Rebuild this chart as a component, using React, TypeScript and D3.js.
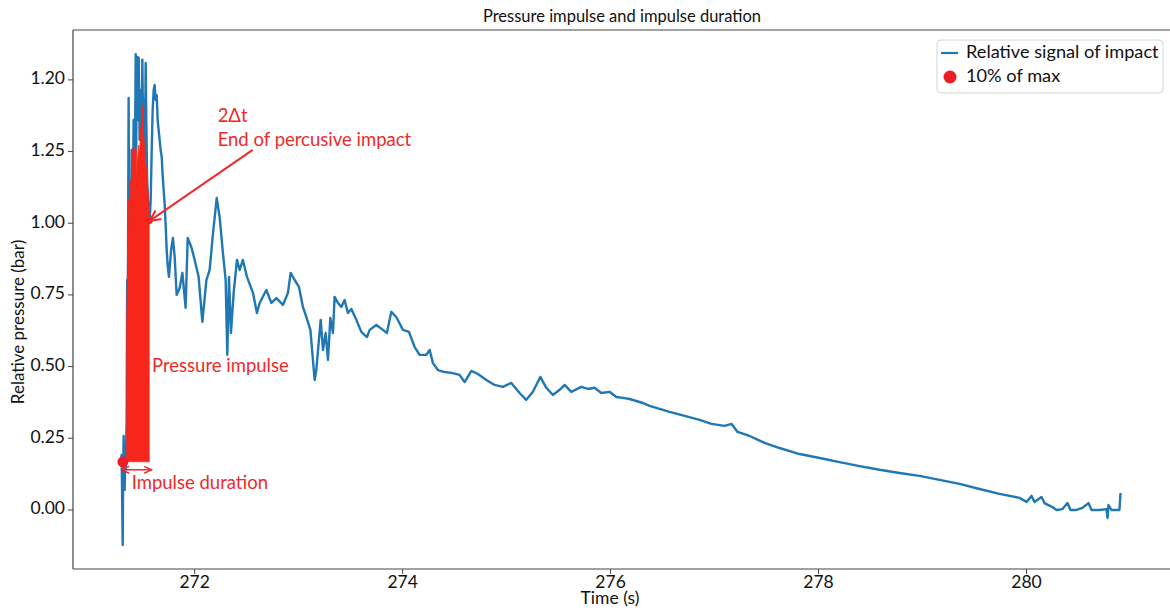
import React from 'react';
import * as d3 from 'd3';

// Relative signal of impact (time in s, pressure in bar)
const signalTime = [
  271.288, 271.298, 271.303, 271.308, 271.312, 271.317, 271.322, 271.327, 271.332, 271.337,
  271.346, 271.351, 271.356, 271.361, 271.365, 271.370, 271.375, 271.385, 271.394, 271.404,
  271.413, 271.423, 271.433, 271.438, 271.442, 271.449, 271.455, 271.462, 271.471, 271.481,
  271.490, 271.497, 271.505, 271.514, 271.522, 271.529, 271.535, 271.543, 271.551, 271.558,
  271.567, 271.577, 271.587, 271.596, 271.606, 271.615, 271.625, 271.635, 271.644, 271.654,
  271.663, 271.673, 271.683, 271.692, 271.702, 271.712, 271.721, 271.731, 271.740, 271.753,
  271.764, 271.774, 271.791, 271.808, 271.827, 271.856, 271.882, 271.913, 271.933, 271.968,
  272.000, 272.038, 272.074, 272.113, 272.144, 272.173, 272.212, 272.240, 272.269, 272.298,
  272.314, 272.330, 272.349, 272.375, 272.407, 272.433, 272.464, 272.503, 272.561, 272.599,
  272.625, 272.689, 272.738, 272.786, 272.849, 272.897, 272.923, 272.962, 273.003, 273.041,
  273.074, 273.113, 273.154, 273.170, 273.195, 273.212, 273.234, 273.260, 273.282, 273.305,
  273.330, 273.346, 273.378, 273.411, 273.442, 273.474, 273.507, 273.555, 273.603, 273.657,
  273.683, 273.747, 273.811, 273.849, 273.891, 273.939, 274.003, 274.061, 274.115, 274.163,
  274.228, 274.260, 274.291, 274.339, 274.404, 274.468, 274.548, 274.596, 274.661, 274.724,
  274.805, 274.885, 274.964, 275.045, 275.125, 275.189, 275.253, 275.324, 275.382, 275.445,
  275.510, 275.558, 275.622, 275.718, 275.782, 275.846, 275.911, 275.990, 276.055, 276.118,
  276.183, 276.247, 276.311, 276.375, 276.439, 276.567, 276.712, 276.856, 276.971, 277.096,
  277.163, 277.221, 277.337, 277.481, 277.625, 277.817, 278.010, 278.202, 278.394, 278.587,
  278.779, 278.971, 279.163, 279.356, 279.548, 279.740, 279.933, 280.000, 280.048, 280.077,
  280.144, 280.173, 280.250, 280.288, 280.346, 280.394, 280.423, 280.481, 280.538, 280.596,
  280.625, 280.702, 280.769, 280.779, 280.788, 280.817, 280.894, 280.904,
];
const signalValue = [
  0.167, 0.192, 0.035, -0.122, 0.105, 0.258, 0.140, 0.070, 0.174, 0.140,
  0.314, 0.802, 0.558, 1.046, 1.437, 0.907, 1.151, 0.732, 1.256, 0.977,
  1.360, 1.081, 1.590, 1.256, 1.535, 1.580, 1.360, 1.577, 1.291, 1.465,
  1.256, 1.570, 1.291, 1.430, 1.221, 1.559, 1.360, 1.151, 1.081, 1.029,
  1.008, 1.081, 1.256, 1.395, 1.465, 1.482, 1.430, 1.447, 1.360, 1.325,
  1.291, 1.256, 1.231, 1.168, 1.116, 1.064, 0.994, 0.907, 0.855, 0.813,
  0.865, 0.907, 0.949, 0.882, 0.750, 0.774, 0.827, 0.705, 0.949, 0.917,
  0.872, 0.813, 0.656, 0.802, 0.837, 0.952, 1.088, 1.022, 0.907, 0.802,
  0.541, 0.813, 0.617, 0.757, 0.872, 0.837, 0.872, 0.813, 0.757, 0.687,
  0.722, 0.767, 0.722, 0.739, 0.715, 0.757, 0.827, 0.802, 0.778, 0.708,
  0.673, 0.628, 0.453, 0.488, 0.593, 0.663, 0.558, 0.617, 0.523, 0.670,
  0.617, 0.743, 0.722, 0.708, 0.732, 0.687, 0.701, 0.663, 0.621, 0.603,
  0.628, 0.645, 0.628, 0.617, 0.691, 0.673, 0.628, 0.621, 0.569, 0.541,
  0.541, 0.558, 0.513, 0.488, 0.481, 0.478, 0.471, 0.446, 0.485, 0.474,
  0.453, 0.436, 0.429, 0.443, 0.408, 0.384, 0.412, 0.464, 0.426, 0.401,
  0.419, 0.436, 0.412, 0.429, 0.422, 0.426, 0.408, 0.412, 0.394, 0.391,
  0.387, 0.380, 0.373, 0.363, 0.356, 0.342, 0.328, 0.314, 0.300, 0.293,
  0.300, 0.272, 0.258, 0.234, 0.216, 0.195, 0.181, 0.167, 0.153, 0.140,
  0.129, 0.119, 0.105, 0.091, 0.073, 0.056, 0.042, 0.028, 0.049, 0.028,
  0.045, 0.024, 0.010, 0.000, 0.003, 0.024, 0.000, 0.000, 0.007, 0.024,
  0.000, 0.000, 0.003, -0.028, 0.017, 0.000, 0.000, 0.059,
];

// Pressure impulse (filled red area above the 10% level)
const impulseTime = [
  271.346, 271.356, 271.365, 271.375, 271.385, 271.394, 271.404, 271.413, 271.423, 271.433,
  271.442, 271.452, 271.462, 271.471, 271.481, 271.490, 271.497, 271.505, 271.510, 271.519,
  271.529, 271.535, 271.543, 271.551, 271.558, 271.563,
];
const impulseValue = [
  0.628, 0.907, 1.081, 0.872, 1.151, 1.012, 1.256, 1.168, 1.263, 1.116,
  1.256, 1.203, 1.273, 1.238, 1.325, 1.367, 1.413, 1.343, 1.308, 1.256,
  1.214, 1.193, 1.151, 1.116, 1.064, 1.018,
];
const impulseBase = 0.168;

// 10% of max markers
const markerTime = [271.31, 271.567];
const markerValue = [0.168, 1.008];
const markerSize = [5.5, 3];

const xTicks = [272, 274, 276, 278, 280];
const yTicks = [0, 0.25, 0.5, 0.75, 1.0, 1.25, 1.5];
const yTickLabels = ['0.00', '0.25', '0.50', '0.75', '1.00', '1.25', '1.20'];

const W = 1170;
const H = 610;
const margin = { left: 73, right: 0, top: 30, bottom: 41 };
const FONT = 'Lato, "Open Sans", sans-serif';
const BLUE = '#1f77b4';
const RED = '#ee2a2a';

export default function App() {
  const x = d3.scaleLinear().domain([270.83, 281.38]).range([margin.left, W - margin.right]);
  const y = d3.scaleLinear().domain([-0.206, 1.674]).range([H - margin.bottom, margin.top]);

  const signal = signalTime.map((t, i) => [t, signalValue[i]] as [number, number]);
  const impulse = impulseTime.map((t, i) => [t, impulseValue[i]] as [number, number]);

  const line = d3.line<[number, number]>().x((d) => x(d[0])).y((d) => y(d[1]));
  const area = d3.area<[number, number]>()
    .x((d) => x(d[0]))
    .y0(y(impulseBase))
    .y1((d) => y(d[1]));

  const x0 = margin.left;
  const x1 = W - margin.right;
  const y0 = H - margin.bottom;
  const y1 = margin.top;

  // annotation arrow (end of percussive impact)
  const ax0 = x(272.558), ay0 = y(1.256);
  const ax1 = x(271.567), ay1 = y(1.008);
  const ang = Math.atan2(ay1 - ay0, ax1 - ax0);
  const head = (px: number, py: number, a: number, len: number) => {
    const p1 = [px - len * Math.cos(a - 0.45), py - len * Math.sin(a - 0.45)];
    const p2 = [px - len * Math.cos(a + 0.45), py - len * Math.sin(a + 0.45)];
    return `M${p1[0]},${p1[1]}L${px},${py}L${p2[0]},${p2[1]}`;
  };

  // duration arrow
  const dx0 = x(271.3), dx1 = x(271.585), dy = y(0.14);

  return (
    <svg width={W} height={H} style={{ position: 'absolute', left: 0, top: 0, background: '#fff' }}
      fontFamily={FONT}>
      <defs>
        <clipPath id="plot">
          <rect x={x0} y={y1} width={x1 - x0} height={y0 - y1} />
        </clipPath>
      </defs>

      <text x={622} y={18} textAnchor="middle" dominantBaseline="middle" fontSize={16.5} fill="#111">
        Pressure impulse and impulse duration
      </text>

      <g clipPath="url(#plot)">
        <path d={line(signal) ?? ''} fill="none" stroke={BLUE} strokeWidth={2.4} strokeLinejoin="round" />
        <path d={area(impulse) ?? ''} fill="#f7261c" stroke="#f7261c" strokeWidth={0.8} />
        {markerTime.map((t, i) => (
          <circle key={i} cx={x(t)} cy={y(markerValue[i])} r={markerSize[i]} fill="#ee1c25" />
        ))}
      </g>

      {/* annotations */}
      <g fill={RED} fontSize={18.5}>
        <text x={x(272.221)} y={y(1.371)} dominantBaseline="middle">2Δt</text>
        <text x={x(272.221)} y={y(1.287)} dominantBaseline="middle">End of percusive impact</text>
        <text x={x(271.59)} y={y(0.499)} dominantBaseline="middle">Pressure impulse</text>
        <text x={x(271.394)} y={y(0.091)} dominantBaseline="middle">Impulse duration</text>
      </g>
      <g stroke={RED} fill="none" strokeWidth={2}>
        <line x1={ax0} y1={ay0} x2={ax1} y2={ay1} />
        <path d={head(ax1, ay1, ang, 12)} />
      </g>
      <g stroke={RED} fill="none" strokeWidth={1.5}>
        <line x1={dx0} y1={dy} x2={dx1} y2={dy} />
        <path d={head(dx1, dy, 0, 8)} />
        <path d={head(dx0, dy, Math.PI, 8)} />
      </g>

      {/* spines (right one falls at the picture's edge) */}
      <g stroke="#444" strokeWidth={1.2} fill="none">
        <line x1={x0} y1={y1} x2={x1} y2={y1} />
        <line x1={x0} y1={y0} x2={x1} y2={y0} />
        <line x1={x0} y1={y1} x2={x0} y2={y0} />
      </g>

      {/* x axis */}
      {xTicks.map((t) => (
        <g key={t}>
          <line x1={x(t)} x2={x(t)} y1={y0} y2={y0 + 5} stroke="#444" strokeWidth={1} />
          <text x={x(t)} y={y0 + 15} textAnchor="middle" dominantBaseline="middle" fontSize={17.5} fill="#111">
            {t}
          </text>
        </g>
      ))}
      <text x={610} y={600} textAnchor="middle" dominantBaseline="middle" fontSize={17.5} fill="#111">
        Time (s)
      </text>

      {/* y axis */}
      {yTicks.map((v, i) => (
        <g key={v}>
          <line x1={x0 - 5} x2={x0} y1={y(v)} y2={y(v)} stroke="#444" strokeWidth={1} />
          <text x={x0 - 8} y={y(v)} textAnchor="end" dominantBaseline="middle" fontSize={17.5} fill="#111">
            {yTickLabels[i]}
          </text>
        </g>
      ))}
      <text transform={`translate(20,${322}) rotate(-90)`} textAnchor="middle" dominantBaseline="middle"
        fontSize={17} fill="#111">
        Relative pressure (bar)
      </text>

      {/* legend */}
      <g>
        <rect x={937} y={40} width={226} height={53} rx={4} fill="#fff" fillOpacity={0.85} stroke="#d4d4d4" />
        <line x1={941} x2={958} y1={53} y2={53} stroke={BLUE} strokeWidth={2.2} />
        <text x={966} y={53} dominantBaseline="middle" fontSize={18.2} fill="#111">Relative signal of impact</text>
        <circle cx={950} cy={77} r={6.5} fill="#ee1c25" />
        <text x={966} y={77} dominantBaseline="middle" fontSize={18.2} fill="#111">10% of max</text>
      </g>
    </svg>
  );
}
